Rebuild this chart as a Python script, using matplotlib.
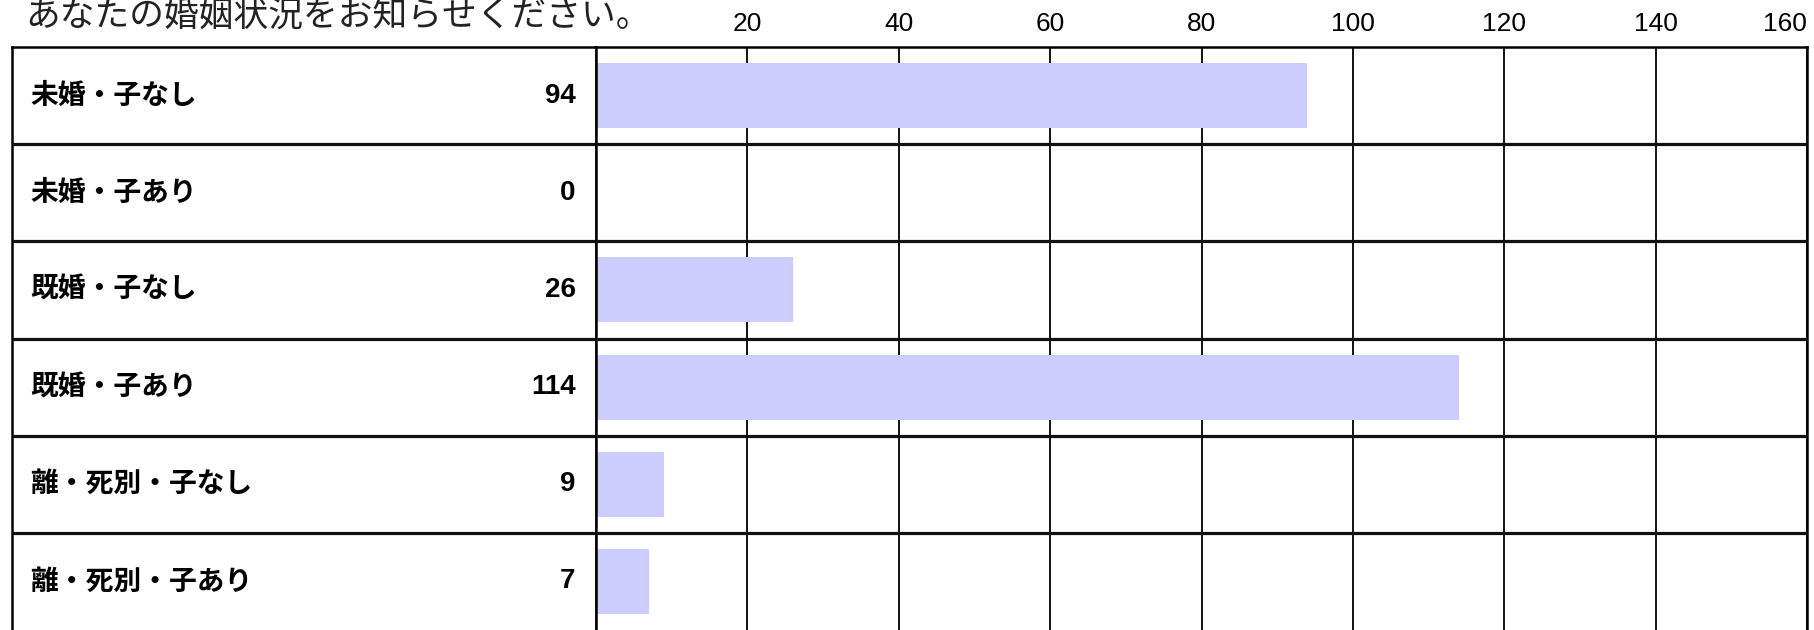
import matplotlib
matplotlib.use('Agg')
import matplotlib.pyplot as plt

plt.rcParams['font.family'] = ['Noto Sans CJK JP', 'DejaVu Sans']
num_font = ['Liberation Sans Narrow', 'Liberation Sans']

# データ
title = 'あなたの婚姻状況をお知らせください。'
categories = ['未婚・子なし', '未婚・子あり', '既婚・子なし', '既婚・子あり',
              '離・死別・子なし', '離・死別・子あり']
counts = [94, 0, 26, 114, 9, 7]
x_ticks = [20, 40, 60, 80, 100, 120, 140, 160]

W, H = 1814, 630
fig = plt.figure(figsize=(W / 100, H / 100), dpi=100)

top = 1 - 47 / H
split = 596 / W
ax_l = fig.add_axes([11.6 / W, 0, split - 11.6 / W, top])
ax = fig.add_axes([split, 0, 1807 / W - split, top])

n = len(categories)
for a in (ax_l, ax):
    a.set_ylim(n - 0.5, -0.5)
    for s in ('left', 'top', 'right'):
        a.spines[s].set_linewidth(1.8)
    a.spines['bottom'].set_visible(False)
    for i in range(n - 1):
        a.axhline(i + 0.5, color='#111111', lw=2.3, zorder=3)

# 左側：項目名と件数
ax_l.set_xlim(0, 1)
ax_l.set_xticks([])
ax_l.set_yticks([])
for i, (cat, c) in enumerate(zip(categories, counts)):
    ax_l.text(0.032, i, cat, ha='left', va='center', fontsize=20, fontweight='bold')
    ax_l.text(0.965, i, str(c), ha='right', va='center', fontsize=20,
              fontweight='bold', family=num_font)

# 右側：棒グラフ
ax.barh(range(n), counts, height=0.67, color='#CCCCFF', zorder=2)
ax.set_xlim(0, 160)
ax.set_yticks([])
ax.set_xticks(x_ticks)
ax.xaxis.tick_top()
ax.tick_params(axis='x', length=0, pad=8)
for lab in ax.get_xticklabels():
    lab.set_family(num_font)
    lab.set_fontsize(19)
ax.get_xticklabels()[-1].set_horizontalalignment('right')
ax.set_axisbelow(True)
ax.xaxis.grid(True, color='black', lw=1.3)

fig.text(25 / W, 1 - 16 / H, title, ha='left', va='center', fontsize=25, color='#222222')

fig.savefig('out.png', dpi=100)
